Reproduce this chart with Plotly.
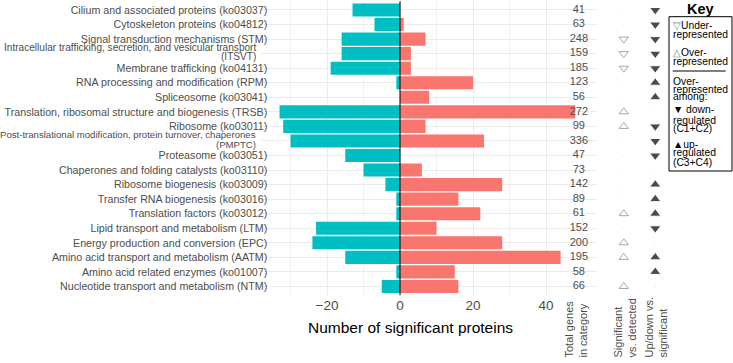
import plotly.graph_objects as go

categories = [
    "Cilium and associated proteins (ko03037)",
    "Cytoskeleton proteins (ko04812)",
    "Signal transduction mechanisms (STM)",
    "Intracellular trafficking, secretion, and vesicular transport<br>(ITSVT)",
    "Membrane trafficking (ko04131)",
    "RNA processing and modification (RPM)",
    "Spliceosome (ko03041)",
    "Translation, ribosomal structure and biogenesis (TRSB)",
    "Ribosome (ko03011)",
    "Post-translational modification, protein turnover, chaperones<br>(PMPTC)",
    "Proteasome (ko03051)",
    "Chaperones and folding catalysts (ko03110)",
    "Ribosome biogenesis (ko03009)",
    "Transfer RNA biogenesis (ko03016)",
    "Translation factors (ko03012)",
    "Lipid transport and metabolism (LTM)",
    "Energy production and conversion (EPC)",
    "Amino acid transport and metabolism (AATM)",
    "Amino acid related enzymes (ko01007)",
    "Nucleotide transport and metabolism (NTM)",
]
down_counts = [-13, -7, -16, -16, -19, -1, 0, -33, -32, -30, -15, -10, -4, -1, -1, -23, -24, -15, -1, -5]
up_counts = [0, 1, 7, 3, 3, 20, 8, 48, 7, 23, 0, 6, 28, 16, 22, 10, 28, 44, 15, 16]
total_genes = [41, 63, 248, 159, 185, 123, 56, 272, 99, 336, 47, 73, 142, 89, 61, 152, 200, 195, 58, 66]
sig_vs_detected = ["", "", "under", "under", "under", "", "", "over", "over", "", "", "", "", "", "over", "", "over", "over", "", "over"]
updown_vs_sig = ["down", "down", "down", "down", "down", "up", "up", "", "down", "down", "down", "", "up", "up", "up", "down", "", "up", "up", ""]
x_ticks = [-20, 0, 20, 40]
x_minor_ticks = [-30, -10, 10, 30, 50]
column_headers = ["Total genes<br>in category", "Significant<br>vs. detected", "Up/down vs.<br>significant"]
key_title = "Key"
key_lines = [
    "<span style='color:#808080'>▽</span>Under-", "represented",
    "<span style='color:#808080'>△</span>Over-", "represented",
    "Over-", "represented", "among:",
    "▼ down-", "regulated", "(C1+C2)",
    "▲up-", "regulated", "(C3+C4)",
]

W, H = 733, 363
FONT = "Liberation Sans, Arial, sans-serif"
LABEL_SIZE = 10.7
def px(p):
    return p / W
def py(p):
    return 1 - p / H

n = len(categories)
idx = list(range(n))
ydom = [py(295.2), py(1.25)]
yrange = [n - 0.4, -0.6]

# single-line labels go on the axis; two-line labels are split into tighter lines
tick_text = [c if "<br>" not in c else "" for c in categories]
long_label_sizes = {3: 10.1, 9: 9.6}

fig = go.Figure()
fig.add_trace(go.Bar(y=idx, x=down_counts, orientation="h", width=0.9,
                     marker=dict(color="#00BFC4", line=dict(width=0)), xaxis="x", yaxis="y"))
fig.add_trace(go.Bar(y=idx, x=up_counts, orientation="h", width=0.9,
                     marker=dict(color="#F8766D", line=dict(width=0)), xaxis="x", yaxis="y"))
fig.add_trace(go.Scatter(x=[49] * n, y=idx, mode="text", text=[str(v) for v in total_genes],
                         textfont=dict(size=11, color="#4d4d4d", family=FONT),
                         cliponaxis=False, xaxis="x", yaxis="y"))

def col_markers(values, xpos, kind):
    syms, sizes, cols = [], [], []
    for v in values:
        if v == "":
            syms.append("circle"); sizes.append(2); cols.append("#dcdcdc")
        elif kind == "open":
            syms.append("triangle-down-open" if v == "under" else "triangle-up-open")
            sizes.append(8); cols.append("#808080")
        else:
            syms.append("triangle-down" if v == "down" else "triangle-up")
            sizes.append(10); cols.append("black")
    return go.Scatter(x=[xpos] * n, y=idx, mode="markers",
                      marker=dict(symbol=syms, size=sizes, color=cols, line=dict(width=1)),
                      xaxis="x2", yaxis="y2", cliponaxis=False)

fig.add_trace(col_markers(sig_vs_detected, 0.5, "open"))
fig.add_trace(col_markers(updown_vs_sig, 1.5, "filled"))

annotations = [
    dict(text="Number of significant proteins", x=px(410), y=py(327), xref="paper", yref="paper",
         showarrow=False, xanchor="center", yanchor="middle", font=dict(size=15.5, color="black", family=FONT)),
    dict(text="<b>" + key_title + "</b>", x=px(700), y=py(9.5), xref="paper", yref="paper", showarrow=False,
         xanchor="center", yanchor="middle", font=dict(size=14.5, color="black", family=FONT)),
]
for i, c in enumerate(categories):
    if "<br>" in c:
        first, second = c.split("<br>")
        for txt, off in ((first, -0.45), (second, 0.22)):
            annotations.append(dict(text=txt, x=px(257.5), y=i + off, xref="paper", yref="y",
                                    showarrow=False, xanchor="right", yanchor="middle",
                                    font=dict(size=long_label_sizes.get(i, LABEL_SIZE), color="#4d4d4d", family=FONT)))
for txt, cx in zip(column_headers, [575, 624, 655]):
    annotations.append(dict(text=txt, x=px(cx), y=py(360), xref="paper", yref="paper", showarrow=False,
                            textangle=-90, xanchor="center", yanchor="bottom", align="left",
                            font=dict(size=11, color="#4d4d4d", family=FONT)))
key_ys = [25, 34, 52, 62, 81, 89, 97, 109, 120, 129, 144, 153, 162]
for txt, yy in zip(key_lines, key_ys):
    annotations.append(dict(text=txt, x=px(670.5), y=py(yy), xref="paper", yref="paper", showarrow=False,
                            xanchor="left", yanchor="middle", font=dict(size=10.3, color="black", family=FONT)))

shapes = [
    dict(type="line", xref="x", yref="y domain", x0=0, x1=0, y0=0, y1=1,
         line=dict(color="black", width=1), layer="above"),
    dict(type="rect", xref="paper", yref="paper", x0=px(669), x1=px(732), y0=py(171), y1=py(16.7),
         line=dict(color="black", width=1)),
    dict(type="line", xref="paper", yref="paper", x0=px(672.7), x1=px(725.7), y0=py(71), y1=py(71),
         line=dict(color="black", width=1)),
]

fig.update_layout(
    width=W, height=H, autosize=False, margin=dict(l=0, r=0, t=0, b=0, pad=0),
    paper_bgcolor="white", plot_bgcolor="white", showlegend=False, barmode="overlay",
    font=dict(family=FONT),
    xaxis=dict(domain=[px(261.3), px(597.1)], range=[-38, 54], anchor="y", automargin=False,
               tickvals=x_ticks, showgrid=True, gridcolor="#EBEBEB", gridwidth=1,
               minor=dict(tickvals=x_minor_ticks, showgrid=True, gridcolor="#F3F3F3", gridwidth=1),
               zeroline=False, showline=False, ticks="",
               tickfont=dict(size=13.5, color="#4d4d4d", family=FONT)),
    yaxis=dict(domain=ydom, range=yrange, anchor="x", tickvals=idx, ticktext=tick_text, automargin=False,
               showgrid=True, gridcolor="#EBEBEB", gridwidth=1, zeroline=False, showline=False,
               ticks="", ticklabelstandoff=-7,
               tickfont=dict(size=LABEL_SIZE, color="#4d4d4d", family=FONT)),
    xaxis2=dict(domain=[px(608), px(671)], range=[0, 2], anchor="y2", visible=False, automargin=False),
    yaxis2=dict(domain=ydom, range=yrange, anchor="x2", visible=False, automargin=False),
    annotations=annotations, shapes=shapes,
)

fig.write_html("out.html")
